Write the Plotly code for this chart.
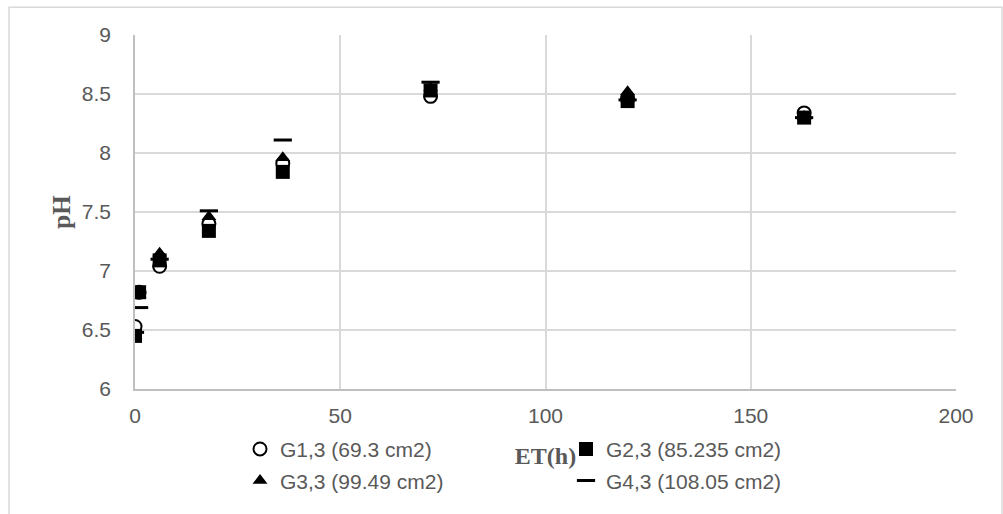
import plotly.graph_objects as go

# Elapsed time (h) for each sampling point
time_h = [0, 1, 6, 18, 36, 72, 120, 163]

# pH readings for each specimen group
ph_g1 = [6.53, 6.82, 7.04, 7.40, 7.91, 8.48, 8.46, 8.34]
ph_g2 = [6.45, 6.82, 7.09, 7.34, 7.84, 8.53, 8.44, 8.30]
ph_g3 = [6.45, 6.80, 7.15, 7.46, 7.96, 8.55, 8.52, 8.31]
ph_g4 = [6.48, 6.69, 7.10, 7.51, 8.11, 8.60, 8.45, 8.30]

series_names = [
    "G1,3 (69.3 cm2)",
    "G2,3 (85.235 cm2)",
    "G3,3 (99.49 cm2)",
    "G4,3 (108.05 cm2)",
]

x_ticks = [0, 50, 100, 150, 200]
y_ticks = [6, 6.5, 7, 7.5, 8, 8.5, 9]

W, H = 1003, 514
ML, MR, MT, MB = 135, 47, 35, 121
PW, PH = W - ML - MR, H - MT - MB

TEXT = "#595959"
GRID = "#d9d9d9"


def px_to_paper_x(px):
    return (px - ML) / PW


def px_to_paper_y(py):
    return (MT + PH - py) / PH


fig = go.Figure()

fig.add_trace(go.Scatter(
    x=time_h, y=ph_g1, mode="markers", name=series_names[0], legend="legend",
    marker=dict(symbol="circle", size=13, color="white",
                line=dict(color="black", width=2)),
))
fig.add_trace(go.Scatter(
    x=time_h, y=ph_g2, mode="markers", name=series_names[1], legend="legend",
    marker=dict(symbol="square", size=14, color="black",
                line=dict(color="black", width=0)),
))
fig.add_trace(go.Scatter(
    x=time_h, y=ph_g3, mode="markers", name=series_names[2], legend="legend2",
    marker=dict(symbol="triangle-up", size=13, color="black",
                line=dict(color="black", width=0)),
))
fig.add_trace(go.Scatter(
    x=time_h, y=ph_g4, mode="markers", name=series_names[3], legend="legend2",
    marker=dict(symbol="line-ew", size=13, color="black",
                line=dict(color="black", width=3)),
))

legend_common = dict(
    orientation="h", xref="paper", yref="paper",
    xanchor="left", yanchor="middle",
    font=dict(family="Liberation Sans", size=21, color=TEXT),
    bgcolor="rgba(0,0,0,0)", itemwidth=30,
    entrywidth=281, entrywidthmode="pixels",
    traceorder="normal",
)

# Outer chart-area border
border = dict(
    type="rect", xref="paper", yref="paper",
    x0=px_to_paper_x(9), x1=px_to_paper_x(1002),
    y0=px_to_paper_y(530), y1=px_to_paper_y(7),
    line=dict(color=GRID, width=1.5), fillcolor="rgba(0,0,0,0)", layer="below",
)

fig.update_layout(
    width=W, height=H, autosize=False,
    margin=dict(l=ML, r=MR, t=MT, b=MB, pad=0),
    paper_bgcolor="white", plot_bgcolor="white",
    font=dict(family="Liberation Sans", size=21, color=TEXT),
    showlegend=True,
    legend=dict(legend_common, x=px_to_paper_x(240), y=px_to_paper_y(454)),
    legend2=dict(legend_common, x=px_to_paper_x(240), y=px_to_paper_y(486)),
    shapes=[border],
    xaxis=dict(
        range=[0, 200], tickvals=x_ticks, ticktext=[str(v) for v in x_ticks],
        showgrid=True, gridcolor=GRID, gridwidth=1.5,
        showline=True, linecolor="#bfbfbf", linewidth=1.5,
        zeroline=False, ticks="", ticklabelstandoff=7,
        tickfont=dict(family="Liberation Sans", size=21, color=TEXT),
        title=dict(text="ET(h)", standoff=21,
                   font=dict(family="Liberation Serif", size=24, color=TEXT, weight="bold")),
        automargin=True,
    ),
    yaxis=dict(
        range=[6, 9], tickvals=y_ticks, ticktext=["6", "6.5", "7", "7.5", "8", "8.5", "9"],
        showgrid=True, gridcolor=GRID, gridwidth=1.5,
        showline=True, linecolor="#bfbfbf", linewidth=1.5,
        zeroline=False, ticks="", ticklabelstandoff=18,
        tickfont=dict(family="Liberation Sans", size=21, color=TEXT),
        title=dict(text="pH", standoff=4,
                   font=dict(family="Liberation Serif", size=25, color=TEXT, weight="bold")),
        automargin=False,
    ),
)

fig.write_html("out.html")
